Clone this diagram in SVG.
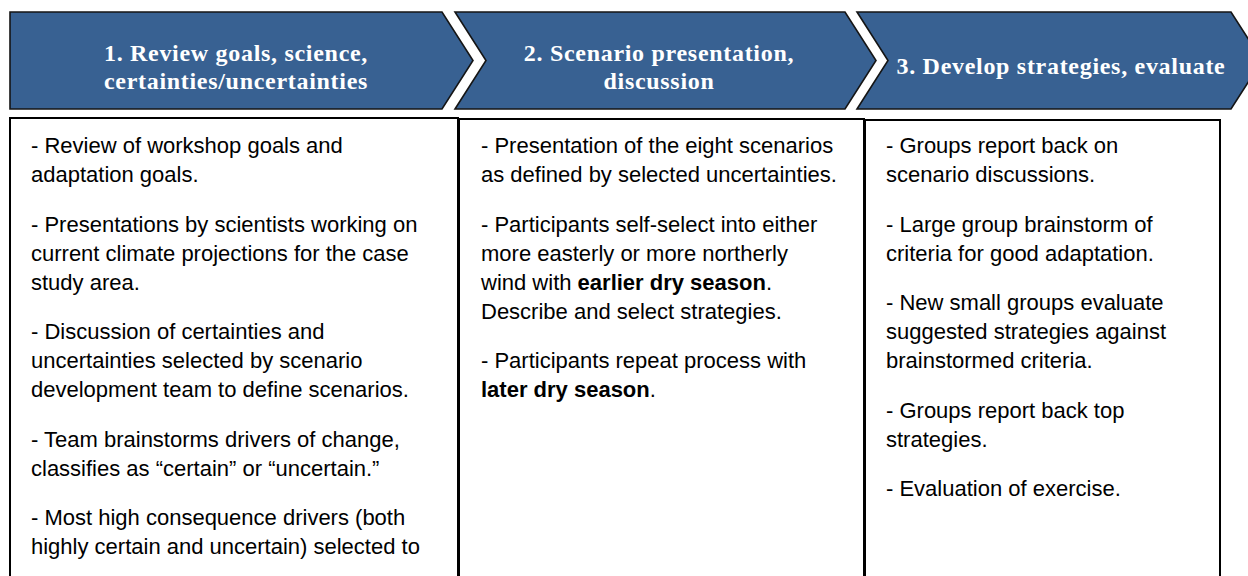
<svg xmlns="http://www.w3.org/2000/svg" width="1248" height="576" viewBox="0 0 1248 576">
<style>
.chev{fill:#386192;stroke:#151515;stroke-width:1.6;stroke-linejoin:miter}
.hd{font-family:"Liberation Serif","Times New Roman",serif;font-weight:bold;font-size:24px;letter-spacing:0.7px;fill:#ffffff;text-anchor:middle}
.box{fill:#ffffff;stroke:#000000;stroke-width:2}
.bt{font-family:"Liberation Sans",Arial,sans-serif;font-size:22px;fill:#000000}
.b{font-weight:bold}
</style>
<rect width="1248" height="576" fill="#ffffff"/>
<g id="step1-header">
<polygon class="chev" points="10,12 442,12 473,60.5 442,109 10,109"/>
<text class="hd" x="236" y="60.5">1. Review goals, science,</text>
<text class="hd" x="236" y="88.5">certainties/uncertainties</text>
</g>
<g id="step2-header">
<polygon class="chev" points="455,12 845,12 876,60.5 845,109 455,109 486,60.5"/>
<text class="hd" x="659" y="60.5">2. Scenario presentation,</text>
<text class="hd" x="659" y="88.5">discussion</text>
</g>
<g id="step3-header">
<polygon class="chev" points="857,12 1231,12 1262,60.5 1231,109 857,109 888,60.5"/>
<text class="hd" x="1061" y="73.5">3. Develop strategies, evaluate</text>
</g>
<g id="connectors"></g>
<g id="step1-box">
<rect class="box" x="10" y="118" width="448" height="470"/>
<text class="bt" x="31" y="153">- Review of workshop goals and</text>
<text class="bt" x="31" y="182">adaptation goals.</text>
<text class="bt" x="31" y="231.6">- Presentations by scientists working on</text>
<text class="bt" x="31" y="260.6">current climate projections for the case</text>
<text class="bt" x="31" y="289.6">study area.</text>
<text class="bt" x="31" y="339.2">- Discussion of certainties and</text>
<text class="bt" x="31" y="368.2">uncertainties selected by scenario</text>
<text class="bt" x="31" y="397.2">development team to define scenarios.</text>
<text class="bt" x="31" y="446.8">- Team brainstorms drivers of change,</text>
<text class="bt" x="31" y="475.8">classifies as “certain” or “uncertain.”</text>
<text class="bt" x="31" y="525.4">- Most high consequence drivers (both</text>
<text class="bt" x="31" y="554.4">highly certain and uncertain) selected to</text>
</g>
<g id="step2-box">
<rect class="box" x="459" y="119" width="405" height="470"/>
<text class="bt" x="481" y="153">- Presentation of the eight scenarios</text>
<text class="bt" x="481" y="182">as defined by selected uncertainties.</text>
<text class="bt" x="481" y="231.6">- Participants self-select into either</text>
<text class="bt" x="481" y="260.6">more easterly or more northerly</text>
<text class="bt" x="481" y="289.6">wind with <tspan class="b">earlier dry season</tspan>.</text>
<text class="bt" x="481" y="318.6">Describe and select strategies.</text>
<text class="bt" x="481" y="368.2">- Participants repeat process with</text>
<text class="bt" x="481" y="397.2"><tspan class="b">later dry season</tspan>.</text>
</g>
<g id="step3-box">
<rect class="box" x="865" y="120" width="355" height="470"/>
<text class="bt" x="886" y="153">- Groups report back on</text>
<text class="bt" x="886" y="182">scenario discussions.</text>
<text class="bt" x="886" y="231.6">- Large group brainstorm of</text>
<text class="bt" x="886" y="260.6">criteria for good adaptation.</text>
<text class="bt" x="886" y="310.2">- New small groups evaluate</text>
<text class="bt" x="886" y="339.2">suggested strategies against</text>
<text class="bt" x="886" y="368.2">brainstormed criteria.</text>
<text class="bt" x="886" y="417.8">- Groups report back top</text>
<text class="bt" x="886" y="446.8">strategies.</text>
<text class="bt" x="886" y="496.4">- Evaluation of exercise.</text>
</g>
</svg>
